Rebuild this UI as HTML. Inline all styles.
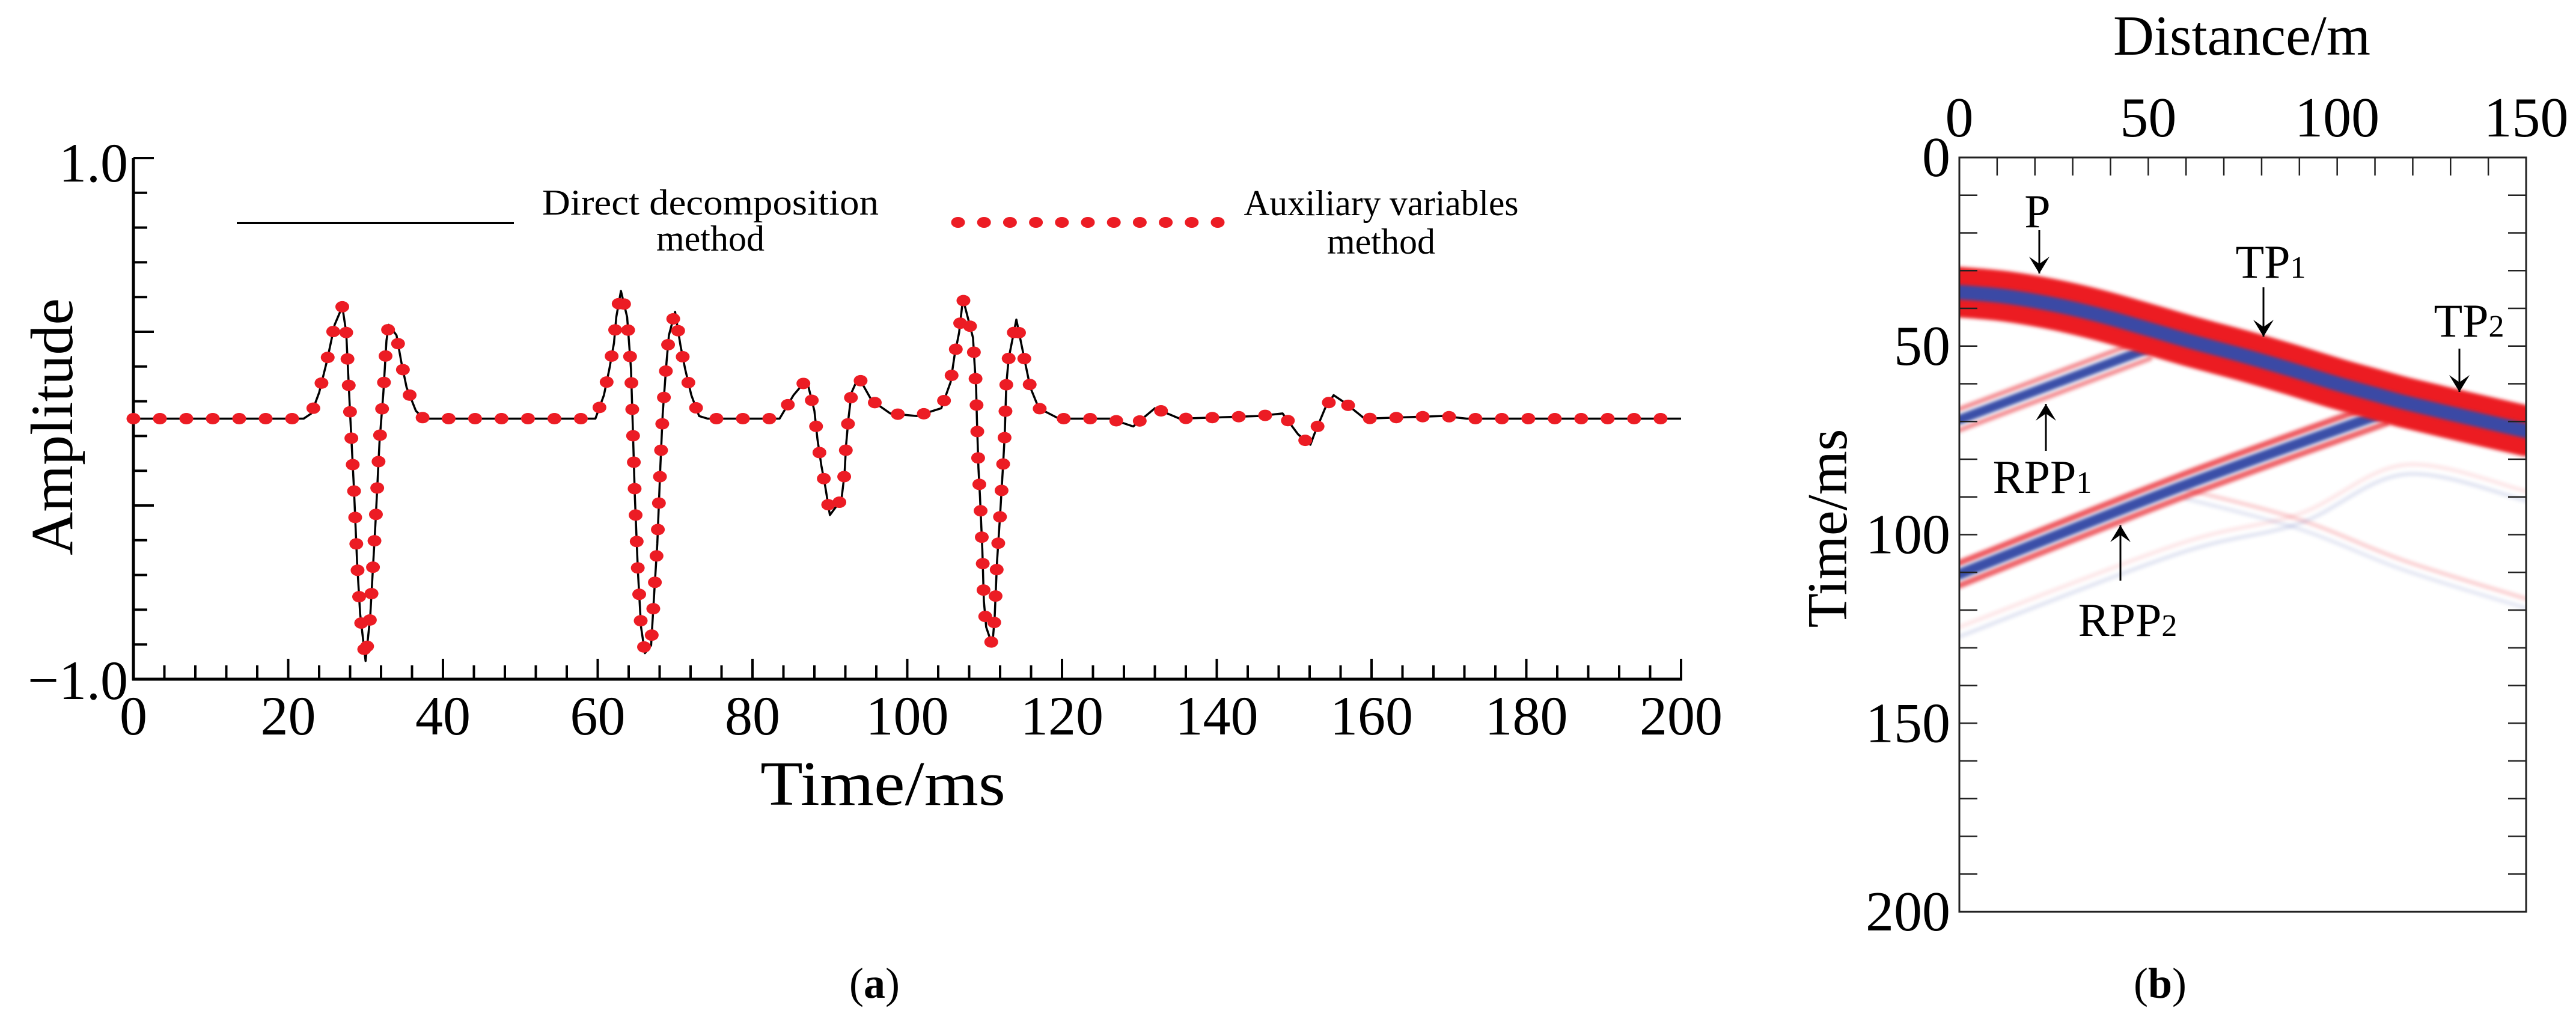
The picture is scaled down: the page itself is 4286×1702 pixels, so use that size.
<!DOCTYPE html>
<html><head><meta charset="utf-8"><style>
html,body{margin:0;padding:0;background:#fff;}
svg{display:block;}
text{font-family:"Liberation Serif",serif;fill:#000;}
</style></head><body>
<svg id="fig" width="4286" height="1702" viewBox="0 0 4286 1702" xmlns="http://www.w3.org/2000/svg">
<defs>
<clipPath id="clipB"><rect x="3260" y="262" width="943" height="1255"/></clipPath>
<filter id="blur3" x="-5%" y="-50%" width="110%" height="200%"><feGaussianBlur stdDeviation="3"/></filter>
<filter id="blur5" x="-5%" y="-50%" width="110%" height="200%"><feGaussianBlur stdDeviation="5"/></filter>
</defs>
<g id="chartA"></g>
<g id="chartB"></g>
</svg>
<script>
// ---------- Chart (a) data ----------
const timeMs = [0,22,23,24,25,26,27,27.5,28,28.5,28.9,29.3,30,30.6,31.3,31.8,32.3,32.7,33,34,34.6,35.3,36.5,37.5,
 59.7,60.8,61.5,62.1,62.4,63,63.8,64.3,64.5,64.8,65.2,65.6,66.1,66.9,67.3,67.7,68.1,68.4,68.9,69.2,70,70.7,71.3,72.1,73.1,74.2,
 83.5,85.3,87,88,88.4,88.9,89.4,90,91.5,91.9,92.1,92.4,92.8,93.7,95.4,97.8,101.2,
 104.4,105.6,106.1,106.7,107.2,108.5,108.7,108.9,109,109.2,109.4,109.7,109.9,110.2,111,111.3,111.6,112,112.4,112.6,112.8,113.1,114.1,115.2,115.9,117,119.6,
 126.2,129.2,132,135.2,145.5,148.5,150.5,152.1,152.6,154,155.1,156.6,159.1,169.2,172.3,200];
const amplitude = [0,0,0.02,0.1,0.22,0.36,0.43,0.33,0.02,-0.27,-0.55,-0.75,-0.93,-0.76,-0.39,-0.09,0.1,0.3,0.36,0.32,0.22,0.12,0.03,0,
 0,0.09,0.19,0.29,0.39,0.49,0.39,0.19,0,-0.3,-0.59,-0.8,-0.9,-0.87,-0.67,-0.48,-0.18,0.02,0.22,0.32,0.41,0.28,0.19,0.09,0.01,0,
 0,0.09,0.15,0.03,-0.08,-0.18,-0.26,-0.37,-0.31,-0.21,-0.1,0,0.1,0.16,0.07,0.02,0.01,
 0.04,0.14,0.24,0.33,0.46,0.31,0.21,0.12,0,-0.19,-0.3,-0.5,-0.7,-0.8,-0.87,-0.76,-0.55,-0.37,-0.17,-0.06,0.13,0.23,0.38,0.22,0.12,0.04,0,
 0,-0.03,0.04,0,0.01,0.02,-0.06,-0.1,-0.06,0.04,0.09,0.06,0,0.01,0,0];
const xTickLabels = ["0","20","40","60","80","100","120","140","160","180","200"];
const yTickLabels = ["1.0","\u22121.0"];

// ---------- Chart (b) data ----------
const pDist = [0,12,25,37,50,62,75,87,100,110,118,134,150];
const pTime = [35.7,36.8,39,41.8,45.5,49,52.5,56,60,62.8,65,68.8,72.5];
const rpp1Dist = [0,50.5];
const rpp1Time = [69.5,50.5];
const rpp2Dist = [0,58,113];
const rpp2Time = [110.5,87.5,67.5];
const faintRedDist = [60,90,118,150];
const faintRedTime = [88,96,107,117];
const faintBlueDist = [0,58,90,118,150];
const faintBlueTime = [127,105,97,84,91];
const distTickLabels = ["0","50","100","150"];
const timeTickLabels = ["0","50","100","150","200"];

const NS="http://www.w3.org/2000/svg";
function mk(tag, attrs, parent){const e=document.createElementNS(NS,tag);for(const k in attrs)e.setAttribute(k,attrs[k]);parent.appendChild(e);return e;}

// ===== Chart (a) =====
const A=document.getElementById('chartA');
const ax0=222, ax1=2797, ayTop=263, ayBot=1130;
const xA=t=>ax0+(t/200)*(ax1-ax0);
const yA=v=>(ayTop+ayBot)/2 - v*(ayBot-ayTop)/2;

let el=mk('line',{x1:ax0,y1:ayTop,x2:ax0,y2:ayBot+2,stroke:'#000','stroke-width':5},A);


el=mk('line',{x1:ax0-2,y1:ayBot,x2:ax1+2,y2:ayBot,stroke:'#000','stroke-width':5},A);


for(let k=0;k<15;k++){
  const y=ayTop+k*(ayBot-ayTop)/15; const len=(k%5===0)?34:23;
  el=mk('line',{x1:ax0,y1:y,x2:ax0+len,y2:y,stroke:'#000','stroke-width':4},A);
  
  
}
for(let t=4;t<=200;t+=4){
  const len=(t%20===0)?34:23;
  el=mk('line',{x1:xA(t),y1:ayBot,x2:xA(t),y2:ayBot-len,stroke:'#000','stroke-width':4},A);
  
  
}
xTickLabels.forEach((s,i)=>{
  const t=mk('text',{x:xA(i*20),y:1222,'font-size':92,'text-anchor':'middle'},A);t.textContent=s;
  
  
});
let tl=mk('text',{x:213,y:302,'font-size':92,'text-anchor':'end'},A);tl.textContent=yTickLabels[0];


tl=mk('text',{x:213,y:1163,'font-size':92,'text-anchor':'end'},A);tl.textContent=yTickLabels[1];


tl=mk('text',{x:0,y:0,'font-size':100,'text-anchor':'middle',transform:'translate(120,710) rotate(-90)'},A);tl.textContent='Amplitude';


tl=mk('text',{x:1469,y:1339,'font-size':105,'text-anchor':'middle',textLength:408,lengthAdjust:'spacingAndGlyphs'},A);tl.textContent='Time/ms';



el=mk('line',{x1:394,y1:371,x2:855,y2:371,stroke:'#000','stroke-width':4},A);


tl=mk('text',{x:1182,y:357,'font-size':60,'text-anchor':'middle',textLength:560,lengthAdjust:'spacingAndGlyphs'},A);tl.textContent='Direct decomposition';


tl=mk('text',{x:1182,y:417,'font-size':60,'text-anchor':'middle'},A);tl.textContent='method';


for(let i=0;i<11;i++){
  el=mk('ellipse',{cx:1594+i*43.2,cy:370,rx:11.5,ry:9,fill:'#ec1c24'},A);
  
  
}
tl=mk('text',{x:2298,y:358,'font-size':60,'text-anchor':'middle',textLength:457,lengthAdjust:'spacingAndGlyphs'},A);tl.textContent='Auxiliary variables';


tl=mk('text',{x:2298,y:422,'font-size':60,'text-anchor':'middle'},A);tl.textContent='method';



const pts=timeMs.map((t,i)=>[xA(t),yA(amplitude[i])]);
el=mk('polyline',{points:pts.map(p=>p.join(',')).join(' '),fill:'none',stroke:'#000','stroke-width':3.5,'stroke-linejoin':'round'},A);


const spacing=44; let acc=0;
const markers=[pts[0]];
for(let i=1;i<pts.length;i++){
  let [x0,y0]=pts[i-1],[x1,y1]=pts[i];
  let seg=Math.hypot(x1-x0,y1-y0), pos=0;
  while(acc+(seg-pos)>=spacing){
    pos+=spacing-acc; acc=0;
    const f=pos/seg; markers.push([x0+(x1-x0)*f,y0+(y1-y0)*f]);
  }
  acc+=seg-pos;
}
markers.forEach(p=>{
  const m=mk('ellipse',{cx:p[0],cy:p[1],rx:11.5,ry:9.5,fill:'#ec1c24'},A);
  
  
});
tl=mk('text',{x:1455,y:1660,'font-size':72,'text-anchor':'middle'},A);tl.innerHTML='(<tspan font-weight="bold">a</tspan>)';



// ===== Chart (b) =====
const B=document.getElementById('chartB');
const bx0=3260,bx1=4203,by0=262,by1=1517;
const xB=d=>bx0+d/150*(bx1-bx0);
const yB=t=>by0+t/200*(by1-by0);
const img=mk('g',{'clip-path':'url(#clipB)'},B);


function pathOf(ds,ts,dt){
  const P=ds.map((d,i)=>[xB(d),yB(ts[i]+(dt||0))]);
  if(P.length<3) return P.map((p,i)=>(i?'L':'M')+p[0]+','+p[1]).join(' ');
  let s='M'+P[0][0]+','+P[0][1];
  for(let i=0;i<P.length-1;i++){
    const p0=P[Math.max(0,i-1)],p1=P[i],p2=P[i+1],p3=P[Math.min(P.length-1,i+2)];
    const c1=[p1[0]+(p2[0]-p0[0])/6,p1[1]+(p2[1]-p0[1])/6];
    const c2=[p2[0]-(p3[0]-p1[0])/6,p2[1]-(p3[1]-p1[1])/6];
    s+=` C${c1[0]},${c1[1]} ${c2[0]},${c2[1]} ${p2[0]},${p2[1]}`;
  }
  return s;
}
function band(ds,ts,dt,color,w,op,filt,name){
  const p=mk('path',{d:pathOf(ds,ts,dt),fill:'none',stroke:color,'stroke-width':w,'stroke-linecap':'round','stroke-linejoin':'round',opacity:op,filter:filt},img);
  
  
}
band(faintRedDist,faintRedTime,0,'#e8202a',7,0.2,'url(#blur3)','faint-red-event');
band(faintRedDist,faintRedTime,2.5,'#3a4fa8',7,0.12,'url(#blur3)','faint-blue-event');
band(faintBlueDist,faintBlueTime,0,'#3a4fa8',7,0.14,'url(#blur3)','faint-blue-event-2');
band(faintBlueDist,faintBlueTime,-2.5,'#e8202a',7,0.1,'url(#blur3)','faint-red-event-2');
band(rpp1Dist,rpp1Time,-2.8,'#e8202a',8,0.5,'url(#blur3)','rpp1-halo-top');
band(rpp1Dist,rpp1Time,2.8,'#e8202a',8,0.5,'url(#blur3)','rpp1-halo-bottom');
band(rpp1Dist,rpp1Time,0,'#3a4fa8',16,1,'url(#blur3)','rpp1-event');
band(rpp2Dist,rpp2Time,-3,'#e8202a',10,0.75,'url(#blur3)','rpp2-halo-top');
band(rpp2Dist,rpp2Time,3,'#e8202a',10,0.7,'url(#blur3)','rpp2-halo-bottom');
band(rpp2Dist,rpp2Time,0,'#3a4fa8',18,1,'url(#blur3)','rpp2-event');
band(pDist,pTime,0,'#ec1c24',84,1,'url(#blur3)','p-event-red');
band(pDist,pTime,0,'#3b4aa5',24,1,'url(#blur3)','p-event-blue');

el=mk('rect',{x:bx0,y:by0,width:bx1-bx0,height:by1-by0,fill:'none',stroke:'#222','stroke-width':3},B);


for(let d=10;d<150;d+=10){
  el=mk('line',{x1:xB(d),y1:by0,x2:xB(d),y2:by0+30,stroke:'#222','stroke-width':2.5},B);
  
  
}
for(let t=10;t<200;t+=10){
  el=mk('line',{x1:bx0,y1:yB(t),x2:bx0+30,y2:yB(t),stroke:'#222','stroke-width':2.5},B);
  
  
  el=mk('line',{x1:bx1,y1:yB(t),x2:bx1-30,y2:yB(t),stroke:'#222','stroke-width':2.5},B);
  
  
}
distTickLabels.forEach((s,i)=>{
  const t=mk('text',{x:xB(i*50),y:227,'font-size':94,'text-anchor':'middle'},B);t.textContent=s;
  
  
});
timeTickLabels.forEach((s,i)=>{
  const t=mk('text',{x:3245,y:yB(i*50)+31,'font-size':94,'text-anchor':'end'},B);t.textContent=s;
  
  
});
tl=mk('text',{x:3730,y:91,'font-size':94,'text-anchor':'middle'},B);tl.textContent='Distance/m';


tl=mk('text',{x:0,y:0,'font-size':94,'text-anchor':'middle',transform:'translate(3072,879) rotate(-90)'},B);tl.textContent='Time/ms';



function arrow(x,yFrom,yTo,name){
  const g=mk('g',{},B);
  
  
  mk('line',{x1:x,y1:yFrom,x2:x,y2:yTo,stroke:'#000','stroke-width':3},g);
  const s=yTo>yFrom?-1:1;
  mk('path',{d:`M${x-17},${yTo+s*28} L${x},${yTo} L${x+17},${yTo+s*28} L${x},${yTo+s*16} Z`,fill:'#000'},g);
}
function label(x,y,main,sub,name){
  const t=mk('text',{x:x,y:y,'font-size':78,'text-anchor':'middle'},B);
  t.innerHTML=main+(sub?`<tspan font-size="52">${sub}</tspan>`:'');
  
  
}
label(3390,378,'P','','label-p');
arrow(3393,383,455,'arrow-p');
label(3778,462,'TP','1','label-tp1');
arrow(3766,478,560,'arrow-tp1');
label(4108,560,'TP','2','label-tp2');
arrow(4092,580,652,'arrow-tp2');
label(3398,820,'RPP','1','label-rpp1');
arrow(3404,750,672,'arrow-rpp1');
label(3540,1058,'RPP','2','label-rpp2');
arrow(3528,966,874,'arrow-rpp2');

tl=mk('text',{x:3594,y:1660,'font-size':72,'text-anchor':'middle'},B);tl.innerHTML='(<tspan font-weight="bold">b</tspan>)';


</script>
</body></html>
